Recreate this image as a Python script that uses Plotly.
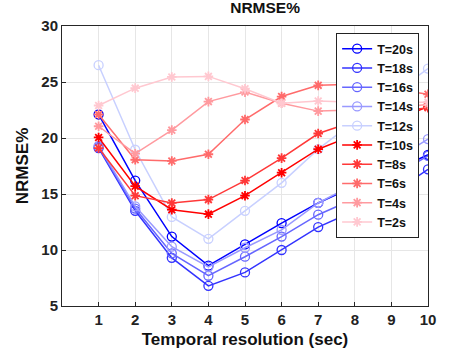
import plotly.graph_objects as go

x_vals = [1, 2, 3, 4, 5, 6, 7, 8, 9, 10]

# NRMSE% per temporal window length
T20 = [22.1, 16.2, 11.2, 8.6, 10.5, 12.4, 14.2, 15.7, 17.0, 18.5]
T18 = [19.1, 13.5, 9.3, 6.8, 8.0, 10.0, 12.05, 13.5, 15.0, 17.2]
T16 = [19.2, 13.7, 9.7, 7.7, 9.4, 11.2, 13.15, 14.6, 16.5, 18.4]
T14 = [19.3, 13.9, 10.3, 8.5, 10.2, 11.8, 14.2, 15.9, 17.9, 19.9]
T12 = [26.5, 18.95, 12.95, 11.0, 13.5, 16.0, 19.0, 21.5, 23.8, 26.2]
T10 = [20.05, 15.7, 13.6, 13.2, 14.85, 16.9, 19.0, 20.3, 21.5, 22.8]
T8 = [19.1, 14.85, 14.2, 14.5, 16.2, 18.2, 20.4, 21.5, 22.3, 22.7]
T6 = [22.1, 18.06, 17.95, 18.55, 21.65, 23.7, 24.7, 24.8, 24.4, 23.9]
T4 = [21.05, 18.6, 20.7, 23.25, 24.1, 23.1, 22.4, 22.5, 22.7, 23.0]
T2 = [22.9, 24.45, 25.45, 25.5, 24.4, 23.1, 23.3, 23.2, 23.2, 23.2]

names = ["T=20s", "T=18s", "T=16s", "T=14s", "T=12s",
         "T=10s", "T=8s", "T=6s", "T=4s", "T=2s"]
series = [T20, T18, T16, T14, T12, T10, T8, T6, T4, T2]
colors = ["#0000ff", "#3333ff", "#6666ff", "#9999ff", "#c8d0ff",
          "#ff0000", "#ff3838", "#ff6b6b", "#ff9a9f", "#ffc8d0"]

fig = go.Figure()
for i, (nm, ys, c) in enumerate(zip(names, series, colors)):
    is_blue = i < 5
    fig.add_trace(go.Scatter(
        x=x_vals, y=ys, name=f"<b>{nm}</b>", mode="lines+markers",
        line=dict(color=c, width=1.5),
        marker=dict(
            symbol="circle-open" if is_blue else "asterisk-open",
            size=9 if is_blue else 8,
            color=c,
            line=dict(color=c, width=1.3 if is_blue else 1.8),
        ),
    ))

font_fam = "Arial, Liberation Sans, sans-serif"
fig.update_layout(
    width=473, height=355,
    margin=dict(l=62, r=45, t=26, b=49, autoexpand=False),
    paper_bgcolor="white", plot_bgcolor="white",
    font=dict(family=font_fam, color="#222", size=15),
    title=dict(text="<b>NRMSE%</b>", x=0.555, xanchor="center", xref="paper",
               y=0.995, yanchor="top", font=dict(size=15.5, color="#111")),
    showlegend=True,
    legend=dict(
        x=0.749, y=0.975, xanchor="left", yanchor="top",
        bgcolor="white", bordercolor="#222", borderwidth=1,
        font=dict(size=12.5, color="#111", family=font_fam),
        tracegroupgap=0, itemwidth=30,
    ),
)
fig.update_xaxes(
    range=[0, 10], tickvals=list(range(1, 11)),
    ticktext=[f"<b>{v}</b>" for v in range(1, 11)],
    showgrid=True, gridcolor="#e6e6e6", gridwidth=1,
    showline=True, linecolor="#262626", linewidth=1, mirror=True,
    ticks="inside", ticklen=4, tickcolor="#262626",
    tickfont=dict(size=15, color="#222"),
    zeroline=False, automargin=False,
    title=dict(text="<b>Temporal resolution (sec)</b>", font=dict(size=17, color="#111"), standoff=6),
)
fig.update_yaxes(
    range=[5, 30], tickvals=[5, 10, 15, 20, 25, 30],
    ticktext=[f"<b>{v}</b>" for v in [5, 10, 15, 20, 25, 30]],
    showgrid=True, gridcolor="#e6e6e6", gridwidth=1,
    showline=True, linecolor="#262626", linewidth=1, mirror=True,
    ticks="inside", ticklen=4, tickcolor="#262626",
    tickfont=dict(size=15, color="#222"),
    zeroline=False, automargin=False,
    title=dict(text="<b>NRMSE%</b>", font=dict(size=17, color="#111"), standoff=8),
)

fig.write_html("out.html", config={"displayModeBar": False},
               post_script="document.body.style.margin='0';")
